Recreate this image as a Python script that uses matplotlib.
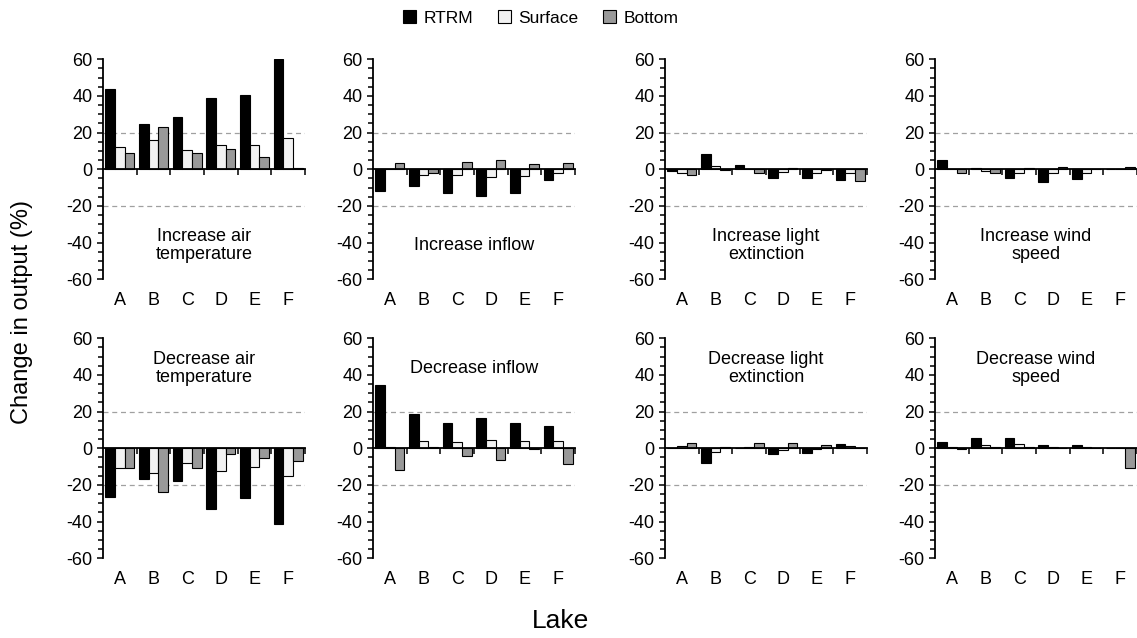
import numpy as np
import matplotlib
matplotlib.use("Agg")
import matplotlib.pyplot as plt
from matplotlib.patches import Patch

plt.rcParams['font.family'] = ['Liberation Sans', 'DejaVu Sans']
plt.rcParams['axes.unicode_minus'] = False

lakes = ["A", "B", "C", "D", "E", "F"]
series = ["RTRM", "Surface", "Bottom"]

# change in output (%) per scenario: RTRM, Surface, Bottom for lakes A-F
inc_air_rtrm = [44, 24.5, 28.5, 39, 40.5, 60]
inc_air_surf = [12.2, 15.9, 10.6, 13, 13.3, 16.8]
inc_air_bot = [9.1, 22.8, 9.1, 11.1, 6.8, 0.8]

inc_inflow_rtrm = [-11.7, -8.9, -12.7, -14.6, -12.7, -6]
inc_inflow_surf = [0.3, -3, -2.9, -4.4, -3.8, -2.2]
inc_inflow_bot = [3.3, -2, 4.2, 5.1, 2.9, 3.3]

inc_light_rtrm = [-0.9, 8.5, 2.1, -4.5, -5, -5.6]
inc_light_surf = [-2.2, 1.7, 0.3, -1.7, -1.8, -2]
inc_light_bot = [-3.3, -0.6, -1.8, 0.8, -0.6, -6.2]

inc_wind_rtrm = [5.1, 0.7, -4.9, -6.9, -5.5, 0.2]
inc_wind_surf = [0.3, -0.9, -1.8, -2.2, -2, 0.2]
inc_wind_bot = [-1.8, -2.2, 0.7, 1.5, 0.2, 1.5]

dec_air_rtrm = [-26.3, -16.9, -18, -33.2, -27.2, -41.3]
dec_air_surf = [-10.8, -13.5, -8.1, -12.3, -10.3, -15]
dec_air_bot = [-10.5, -23.6, -10.5, -3, -5.5, -7]

dec_inflow_rtrm = [34.5, 18.5, 13.8, 16.5, 13.6, 12.3]
dec_inflow_surf = [0.5, 4.2, 3.5, 4.7, 4.2, 4]
dec_inflow_bot = [-11.8, 0.5, -4, -6.4, -0.3, -8.5]

dec_light_rtrm = [0.1, -8, 0.2, -3.3, -2.4, 2.5]
dec_light_surf = [1.5, -1.8, 0.5, -0.9, -0.3, 1]
dec_light_bot = [2.9, 0.7, 3.1, 2.9, 1.6, 0.2]

dec_wind_rtrm = [3.6, 5.8, 5.5, 1.6, 2, 0.1]
dec_wind_surf = [0.5, 1.8, 2.2, 0.5, 0.8, 0.1]
dec_wind_bot = [-0.5, 0.5, 0.5, 0.3, 0.3, -10.5]

panels = [
    ("Increase air\ntemperature", inc_air_rtrm, inc_air_surf, inc_air_bot),
    ("Increase inflow", inc_inflow_rtrm, inc_inflow_surf, inc_inflow_bot),
    ("Increase light\nextinction", inc_light_rtrm, inc_light_surf, inc_light_bot),
    ("Increase wind\nspeed", inc_wind_rtrm, inc_wind_surf, inc_wind_bot),
    ("Decrease air\ntemperature", dec_air_rtrm, dec_air_surf, dec_air_bot),
    ("Decrease inflow", dec_inflow_rtrm, dec_inflow_surf, dec_inflow_bot),
    ("Decrease light\nextinction", dec_light_rtrm, dec_light_surf, dec_light_bot),
    ("Decrease wind\nspeed", dec_wind_rtrm, dec_wind_surf, dec_wind_bot),
]

colors = ["#000000", "#f2f2f2", "#999999"]

W, H = 1137, 638
fig = plt.figure(figsize=(W / 100, H / 100), dpi=100)

lefts = [103, 373, 665, 935]
width = 202
tops = [59.3, 338.3]
height = 220

x = np.arange(len(lakes))
bw = 0.29

for i, (title, rtrm, surf, bot) in enumerate(panels):
    row, col = divmod(i, 4)
    ax = fig.add_axes([lefts[col] / W, 1 - (tops[row] + height) / H, width / W, height / H])
    for j, vals in enumerate([rtrm, surf, bot]):
        ax.bar(x + (j - 1) * bw, vals, bw, color=colors[j], edgecolor="black", linewidth=0.8, zorder=3)
    for yv in (20, -20):
        ax.axhline(yv, color="#a0a0a0", linestyle=(0, (4, 3)), linewidth=0.9, zorder=1)
    ax.set_xlim(-0.5, 5.5)
    ax.set_ylim(-60, 60)
    ax.set_yticks(np.arange(-60, 61, 20))
    ax.set_yticks(np.arange(-60, 61, 5), minor=True)
    ax.set_xticks(np.arange(0.5, 6, 1))
    ax.set_xticklabels([])
    ax.spines['top'].set_visible(False)
    ax.spines['right'].set_visible(False)
    ax.spines['bottom'].set_position(('data', 0))
    ax.spines['bottom'].set_linewidth(1.3)
    ax.spines['bottom'].set_zorder(4)
    ax.spines['left'].set_linewidth(1.3)
    ax.tick_params(axis='y', which='major', length=4.5, width=1.1, labelsize=13, pad=3)
    ax.tick_params(axis='y', which='minor', length=3.5, width=1.1)
    ax.tick_params(axis='x', which='major', length=4.5, width=1.1, direction='out')
    for k, lab in enumerate(lakes):
        ax.text(k, -0.095, lab, transform=ax.get_xaxis_transform(), ha='center', va='center', fontsize=13)
    ty = -41.5 if row == 0 else 43.5
    ax.text(2.5, ty, title, ha='center', va='center', fontsize=13, linespacing=1.1)

handles = [Patch(facecolor=c, edgecolor="black", linewidth=0.8) for c in colors]
fig.legend(handles, series, loc='center', bbox_to_anchor=(541 / W, 1 - 18 / H), ncol=3,
           frameon=False, fontsize=12.5, handlelength=0.75, handleheight=0.75,
           handletextpad=0.45, columnspacing=1.4)

fig.text(22 / W, 1 - 312 / H, "Change in output (%)", rotation=90, ha='center', va='center', fontsize=17)
fig.text(560 / W, 1 - 621 / H, "Lake", ha='center', va='center', fontsize=19)

fig.savefig("out.png", dpi=100)
